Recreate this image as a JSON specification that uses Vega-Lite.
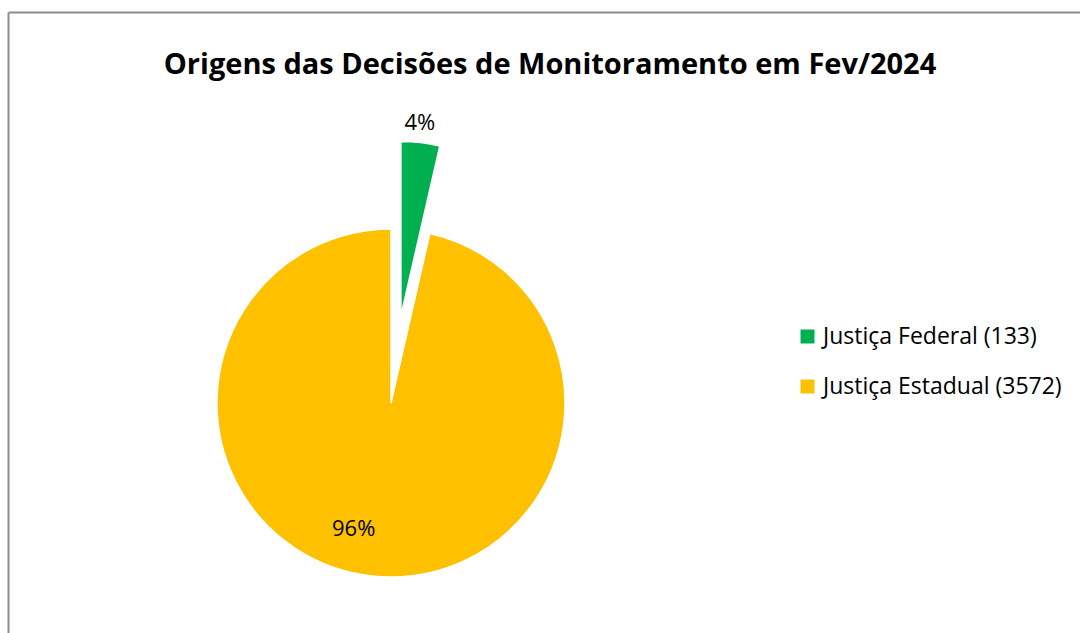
{
  "$schema": "https://vega.github.io/schema/vega-lite/v6.json",
  "width": 1072,
  "height": 621,
  "autosize": {"type": "none"},
  "padding": {"left": 8, "top": 12, "right": 0, "bottom": 0},
  "background": "white",
  "config": {
    "font": "Open Sans",
    "view": {"stroke": null}
  },
  "title": {
    "text": "Origens das Decisões de Monitoramento em Fev/2024",
    "font": "Open Sans",
    "fontSize": 29,
    "fontWeight": "bold",
    "color": "#000000",
    "anchor": "middle",
    "frame": "group",
    "baseline": "alphabetic",
    "offset": -91,
    "dx": 6
  },
  "data": {
    "values": [
      {"origem": "Justiça Federal (133)", "n": 133, "pct": "4%"},
      {"origem": "Justiça Estadual (3572)", "n": 3572, "pct": "96%"}
    ]
  },
  "layer": [
    {
      "mark": {"type": "point", "opacity": 0},
      "encoding": {
        "x": {"field": "n", "type": "quantitative",
              "axis": {"orient": "top", "domain": true, "domainColor": "#8c8c8c", "domainWidth": 2, "ticks": false, "labels": false, "grid": false, "title": null}},
        "y": {"field": "n", "type": "quantitative",
              "axis": {"orient": "left", "domain": true, "domainColor": "#8c8c8c", "domainWidth": 2, "ticks": false, "labels": false, "grid": false, "title": null}}
      }
    },
    {
      "mark": {"type": "arc", "outerRadius": 174, "xOffset": -153, "yOffset": 80.5, "stroke": "white", "strokeWidth": 1.5},
      "encoding": {
        "theta": {"field": "n", "type": "quantitative", "stack": true},
        "order": {"field": "n", "type": "quantitative", "sort": "ascending"},
        "color": {
          "field": "origem", "type": "nominal",
          "scale": {"domain": ["Justiça Federal (133)", "Justiça Estadual (3572)"], "range": ["#00B050", "#FFC000"]},
          "legend": {
            "title": null, "orient": "none", "legendX": 788, "legendY": 313,
            "symbolType": "square", "symbolSize": 196, "symbolStrokeWidth": 0,
            "labelFont": "Open Sans", "labelFontSize": 23, "labelColor": "#000000",
            "labelOffset": 4, "rowPadding": 26, "padding": 0, "labelLimit": 400
          }
        },
        "opacity": {"condition": {"test": "datum.n > 1000", "value": 1}, "value": 0}
      }
    },
    {
      "mark": {"type": "arc", "outerRadius": 174, "xOffset": -143.1, "yOffset": -6.9, "stroke": "white", "strokeWidth": 1.5},
      "encoding": {
        "theta": {"field": "n", "type": "quantitative", "stack": true},
        "order": {"field": "n", "type": "quantitative", "sort": "ascending"},
        "color": {"field": "origem", "type": "nominal"},
        "opacity": {"condition": {"test": "datum.n < 1000", "value": 1}, "value": 0}
      }
    },
    {
      "mark": {"type": "text", "radius": 193.5, "xOffset": -146, "yOffset": -6.9, "fontSize": 22, "font": "Open Sans", "color": "#000000", "baseline": "middle"},
      "encoding": {
        "theta": {"field": "n", "type": "quantitative", "stack": true},
        "order": {"field": "n", "type": "quantitative", "sort": "ascending"},
        "text": {"field": "pct"},
        "opacity": {"condition": {"test": "datum.n < 1000", "value": 1}, "value": 0}
      }
    },
    {
      "mark": {"type": "text", "radius": 127, "xOffset": -176, "yOffset": 80.5, "fontSize": 22, "font": "Open Sans", "color": "#000000", "baseline": "middle"},
      "encoding": {
        "theta": {"field": "n", "type": "quantitative", "stack": true},
        "order": {"field": "n", "type": "quantitative", "sort": "ascending"},
        "text": {"field": "pct"},
        "opacity": {"condition": {"test": "datum.n > 1000", "value": 1}, "value": 0}
      }
    }
  ]
}
